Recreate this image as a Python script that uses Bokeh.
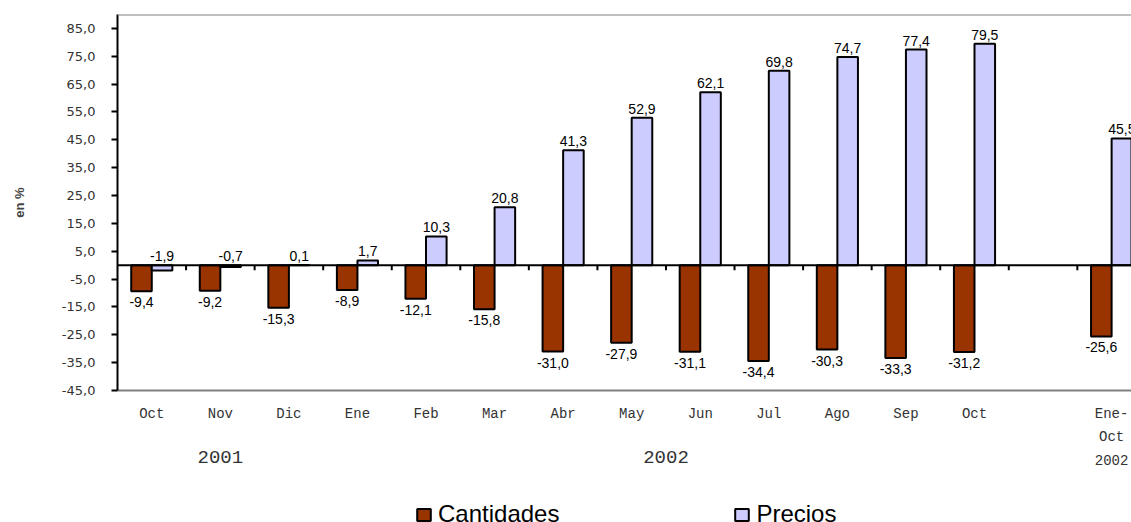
import math
from bokeh.plotting import figure
from bokeh.layouts import column
from bokeh.models import (ColumnDataSource, FixedTicker, LinearAxis, Range1d,
                          Legend, LegendItem, Span)
from bokeh.core.properties import value
from bokeh.embed import file_html
from bokeh.resources import INLINE

# ---------------- data ----------------
categories = ["Oct", "Nov", "Dic", "Ene", "Feb", "Mar", "Abr", "May", "Jun",
              "Jul", "Ago", "Sep", "Oct", "", "Ene-\nOct\n2002"]
cantidades = [-9.4, -9.2, -15.3, -8.9, -12.1, -15.8, -31.0, -27.9, -31.1,
              -34.4, -30.3, -33.3, -31.2, None, -25.6]
precios = [-1.9, -0.7, 0.1, 1.7, 10.3, 20.8, 41.3, 52.9, 62.1,
           69.8, 74.7, 77.4, 79.5, None, 45.5]
years = ["2001", "2002"]
year_groups = [(0, 2), (3, 12)]          # first/last category index of each year
y_ticks = list(range(-45, 86, 10))
series_names = ["Cantidades", "Precios"]
series_colors = ["#993300", "#CCCCFF"]
y_title = "en %"

# ---------------- helpers ----------------
def fmt(v):
    return f"{v:.1f}".replace(".", ",")

BAR_W = 0.3
xs = list(range(len(categories)))

def series_source(vals, dodge):
    idx = [i for i, v in enumerate(vals) if v is not None]
    return ColumnDataSource(dict(
        x=[xs[i] + dodge for i in idx],
        top=[vals[i] for i in idx],
        pos=[max(vals[i], 0) for i in idx],
        label=[fmt(vals[i]) for i in idx],
    ))

src_c = series_source(cantidades, -BAR_W / 2)
src_p = series_source(precios, BAR_W / 2)

y_range = Range1d(-45, 90)
p = figure(width=1131, height=495,
           x_range=Range1d(-0.5, 14.29), y_range=y_range,
           x_axis_location=None,
           output_backend="svg", toolbar_location=None,
           min_border_left=117, min_border_right=0, min_border_top=14,
           min_border_bottom=105)
p.outline_line_color = None
p.xgrid.visible = False
p.ygrid.visible = False
p.background_fill_color = "white"
p.border_fill_color = "white"

bar_style = dict(line_color="black", line_width=2)
r_c = p.vbar(x="x", top="top", bottom=0, width=BAR_W, source=src_c,
             fill_color=series_colors[0], **bar_style)
r_p = p.vbar(x="x", top="top", bottom=0, width=BAR_W, source=src_p,
             fill_color=series_colors[1], **bar_style)

label_font = value("Liberation Sans")
p.text(x="x", y="top", text="label", source=src_c, text_font=label_font,
       text_font_size="14px", text_align="center", text_baseline="top",
       y_offset=6, text_color="black")
p.text(x="x", y="pos", text="label", source=src_p, text_font=label_font,
       text_font_size="14px", text_align="center", text_baseline="bottom",
       y_offset=-4, text_color="black")

# zero line, category boundary ticks and top border
p.add_layout(Span(location=0, dimension="width", line_color="black",
                  line_width=2))
bounds = [i + 0.5 for i in range(len(categories) - 1)]
p.ray(x=bounds, y=[0] * len(bounds), length=5, length_units="screen",
      angle=-math.pi / 2, line_color="black", line_width=2)
p.add_layout(Span(location=y_range.end, dimension="width",
                  line_color="#808080", line_width=2))

# ---------------- y axis ----------------
ya = p.yaxis[0]
ya.ticker = FixedTicker(ticks=y_ticks)
ya.major_label_overrides = {t: f"{t},0" for t in y_ticks}
ya.major_tick_out = 6
ya.major_tick_in = 0
ya.major_tick_line_width = 2
ya.major_tick_line_color = "black"
ya.minor_tick_line_color = None
ya.axis_line_width = 2
ya.axis_line_color = "black"
ya.major_label_text_font = "DejaVu Sans"
ya.major_label_text_font_size = "13px"
ya.major_label_text_color = "#333333"
ya.major_label_standoff = 16
ya.axis_label = y_title
ya.axis_label_text_font = "Liberation Sans"
ya.axis_label_text_font_style = "bold"
ya.axis_label_text_font_size = "13px"
ya.axis_label_standoff = 32

# ---------------- bottom: year axis (also bottom border) ----------------
centers = [(a + b) / 2 for a, b in year_groups]
year_axis = LinearAxis(ticker=FixedTicker(ticks=centers),
                       major_label_overrides={c: y for c, y in zip(centers, years)},
                       axis_line_color="#808080", axis_line_width=2,
                       major_tick_line_color=None, major_tick_out=0,
                       major_tick_in=0, minor_tick_line_color=None,
                       minor_tick_out=0, minor_tick_in=0,
                       major_label_text_font="Liberation Mono",
                       major_label_text_font_size="19px",
                       major_label_text_color="#333333",
                       major_label_standoff=60)
p.add_layout(year_axis, "below")

# ---------------- bottom: month axis (pulled up over the year axis) -------
tick_idx = [i for i, c in enumerate(categories) if c]
month_axis = LinearAxis(ticker=FixedTicker(ticks=tick_idx),
                        major_label_overrides={i: categories[i] for i in tick_idx},
                        axis_line_color=None, major_tick_line_color=None,
                        major_tick_out=0, major_tick_in=0,
                        minor_tick_line_color=None, minor_tick_out=0,
                        minor_tick_in=0,
                        major_label_text_font="Liberation Mono",
                        major_label_text_font_size="14px",
                        major_label_text_color="#333333",
                        major_label_text_line_height=1.49,
                        major_label_standoff=-60)
p.add_layout(month_axis, "below")

# ---------------- legend (own strip under the chart) ----------------
# hidden key renderers: they only supply the legend swatches
lg = figure(width=1131, height=27, x_range=Range1d(0, 1), y_range=Range1d(0, 1),
            x_axis_location=None, y_axis_location=None,
            output_backend="svg", toolbar_location=None, min_border=0)
lg.outline_line_color = None
lg.xgrid.visible = False
lg.ygrid.visible = False
k_c = lg.vbar(x=[-5], top=[-4], bottom=-5, width=BAR_W,
              fill_color=series_colors[0], visible=False, **bar_style)
k_p = lg.vbar(x=[-5], top=[-4], bottom=-5, width=BAR_W,
              fill_color=series_colors[1], visible=False, **bar_style)
legend = Legend(items=[LegendItem(label=series_names[0], renderers=[k_c]),
                       LegendItem(label=series_names[1], renderers=[k_p])],
                orientation="horizontal", location=(298, -6),
                spacing=174, glyph_width=17, glyph_height=15,
                label_standoff=6, label_text_font="Liberation Sans",
                label_text_font_size="24px", label_text_color="black",
                border_line_color=None, background_fill_alpha=0,
                inactive_fill_alpha=0, click_policy="none",
                padding=0, margin=0)
lg.add_layout(legend)

layout = column(p, lg, spacing=0)
open("out.html", "w").write(file_html(layout, INLINE))
